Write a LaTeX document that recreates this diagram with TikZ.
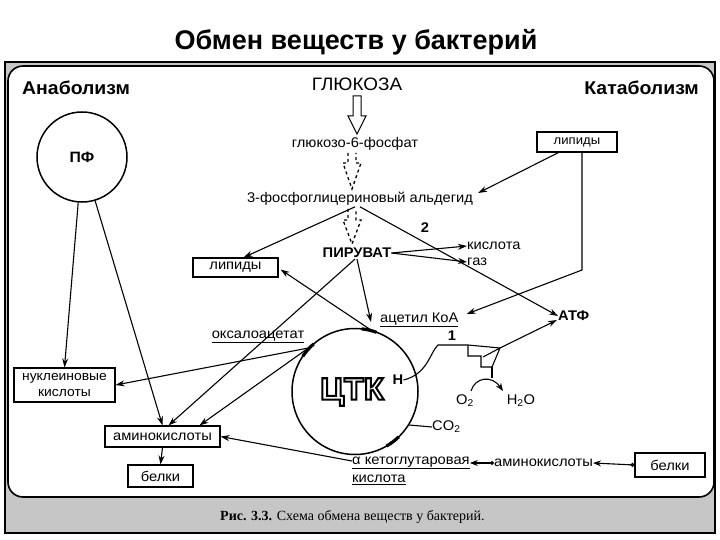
\documentclass[tikz,border=0pt]{standalone}
\usepackage{fontspec}
\setmainfont{Liberation Sans}[FakeStretch=1.05]
\newfontfamily\titlefont{Liberation Sans}
\newfontfamily\capfont{Liberation Serif}
\usetikzlibrary{arrows.meta,calc}
\tikzset{
  lbl/.style={font=\fontsize{14}{16}\selectfont, inner sep=0pt},
  blbl/.style={font=\fontsize{14}{16}\selectfont\bfseries, inner sep=0pt},
  hdr/.style={font=\fontsize{18.5}{20}\selectfont\bfseries, inner sep=0pt},
  box/.style={draw, line width=1.1pt, fill=white, font=\fontsize{14}{16}\selectfont, inner sep=0pt},
  ln/.style={line width=1.1pt},
  conn/.style={line width=1.1pt, -{Stealth[length=9pt,width=6pt]}},
  hollow/.style={line width=1pt, fill=white, line join=miter},
  dhollow/.style={line width=1.3pt, dash pattern=on 3pt off 3pt},
  cmark/.style={line width=3.2pt},
  tcafont/.style={font=\fontsize{31}{33}\selectfont\bfseries, inner sep=0pt},
}
\begin{document}
\begin{tikzpicture}[x=1pt,y=-1pt]
\useasboundingbox (0,0) rectangle (720,540);
\fill[white] (0,0) rectangle (720,540);
% scan frame
\fill[gray!45] (5,62) rectangle (715,533);
\draw[line width=1.3pt] (5,62) rectangle (715,533);
\draw[line width=1.6pt, fill=white, rounded corners=15pt] (8,66) rectangle (714,497);
\node[font=\titlefont\bfseries\fontsize{27}{30}\selectfont, inner sep=0pt] (title) at (356,42) {Обмен веществ у бактерий};
\node[font=\capfont\fontsize{14}{16}\selectfont, inner sep=0pt, anchor=west] (cap) at (220,517) {\textbf{Рис. 3.3.} Схема обмена веществ у бактерий.};
% headers
\node[hdr, anchor=west] (ana) at (22,88) {Анаболизм};
\node[hdr, anchor=east] (kata) at (699,88) {Катаболизм};
% glycolysis column
\node[font=\fontsize{18}{20}\selectfont, inner sep=0pt] (glu) at (357,84) {ГЛЮКОЗА};
\draw[hollow] (353,96) -- (361,96) -- (361,116) -- (366,116) -- (357,134) -- (348,116) -- (353,116) -- cycle;
\node[lbl] (g6p) at (355,144) {глюкозо-6-фосфат};
\draw[dhollow] (348,153) -- (348,163) -- (343,163) -- (352,189) -- (361,163) -- (356,163) -- (356,153);
\node[lbl] (fga) at (360,199) {3-фосфоглицериновый альдегид};
\draw[dhollow] (348,209) -- (348,220) -- (343,220) -- (352,244) -- (361,220) -- (356,220) -- (356,209);
\node[blbl] (pyr) at (357,253) {ПИРУВАТ};
\node[lbl, anchor=west] (acid) at (467,246) {кислота};
\node[lbl, anchor=west] (gas) at (467,262) {газ};
\node[blbl] (n2) at (425,228) {2};
% boxes
\node[draw, circle, line width=1.5pt, minimum size=90pt, font=\fontsize{15}{17}\selectfont\bfseries] (pf) at (82,157) {ПФ};
\node[box, minimum width=85pt, minimum height=19pt] (lipA) at (235.5,267.5) {липиды};
\node[box, minimum width=80pt, minimum height=20pt, font=\fontsize{12.5}{14}\selectfont] (lipK) at (577,142) {липиды};
\node[box, minimum width=101pt, minimum height=34pt, align=center, font=\fontsize{13.2}{16}\selectfont] (nuc) at (64.5,385) {нуклеиновые\\кислоты};
\node[box, minimum width=115pt, minimum height=21pt] (amL) at (162.5,436.5) {аминокислоты};
\node[box, minimum width=65pt, minimum height=22pt] (belL) at (160.5,476) {белки};
\node[box, minimum width=70pt, minimum height=24pt] (belR) at (670,465) {белки};
% TCA
\node[draw, circle, line width=1.5pt, minimum size=126pt, inner sep=0pt] (tca) at (355,391.5) {};
\node[tcafont] (tcat) at (352,392) {\textcolor{white}{\special{pdf:literal direct 2 Tr 2 w 0 G}ЦТК\special{pdf:literal direct 0 Tr}}};
\node[blbl] (hn) at (398,380) {Н};
\node[lbl, anchor=west] (acoa) at (380,320) {\underline{ацетил КоА}};
\node[lbl] (oxa) at (258,337) {\underline{оксалоацетат}};
\node[blbl, anchor=west] (atp) at (558,316) {АТФ};
\node[blbl] (n1) at (452,336) {1};
\node[lbl, anchor=west] (co2) at (432,427) {CO\textsubscript{2}};
\node[lbl] (o2) at (465,401) {O\textsubscript{2}};
\node[lbl] (h2o) at (521,401) {H\textsubscript{2}O};
\node[lbl, anchor=west] (akg1) at (352,463) {\underline{α кетоглутаровая}};
\node[lbl, anchor=west] (akg2) at (352,480) {\underline{кислота}};
\node[lbl, anchor=west] (amR) at (494,463) {аминокислоты};
% marks on circle
\draw[cmark] (355,391.5) ++(-84:63) arc[start angle=-84, end angle=-70, radius=63];
\draw[cmark] (355,391.5) ++(-146:63) arc[start angle=-146, end angle=-131, radius=63];
\draw[cmark] (355,391.5) ++(46:63) arc[start angle=46, end angle=60, radius=63];
% connectors
\draw[conn] ($(fga.south)+(-5,1)$) -- ($(lipA.north east)+(-35,0)$);
\draw[conn] ($(fga.south)+(0,1)$) -- (atp.west);
\draw[conn] (pyr.east) -- (acid.west);
\draw[conn] (pyr.east) -- (gas.west);
\draw[conn] ($(pyr.south)+(0,1)$) -- (371,322);
\draw[conn] ($(pyr.south)+(-2,1)$) -- ($(amL.north)+(6,0)$);
\draw[conn] (tca.76) -- ($(lipA.east)+(2,2)$);
\draw[conn] ($(lipK.south west)+(22,0)$) -- ($(fga.east)+(5,-6)$);
\draw[conn] ($(lipK.south)+(5,0)$) -- (582,270) -- ($(acoa.east)+(8,-6)$);
\draw[conn] (pf) -- (nuc.north);
\draw[conn] (pf) -- (amL.north);
\draw[conn] (tca.137.5) -- (nuc.east);
\draw[conn] (tca.137.5) -- ($(amL.north)+(37,0)$);
\draw[conn] ($(akg1.west)+(0,-2)$) -- (amL.east);
\draw[conn] (amL.south) -- (belL.north);
\draw[ln] (409,425) -- (co2.west);
% electron transport chain
\draw[ln, line join=miter] (hn.east) .. controls (428,374) and (430,352) .. (438,345) -- (468,345) -- (500,348);
\draw[ln, line join=miter] (468,345) -- (468,356) -- (481,356) -- (481,367) -- (492,367) -- (500,348) -- (483,357);
\draw[ln] (492,367) -- (492,378);
\coordinate (etc) at (500,348);
\draw[conn] (etc) -- ($(atp.west)+(-1,4)$);
\draw[ln, -{Stealth[length=8pt,width=6pt]}] (471,391) .. controls (475,377) and (492,375) .. (503,391);
% bottom right chain
\draw[line width=1.1pt, {Stealth[length=8pt,width=6pt]}-{Circle[length=4pt]}] (akg1.east) -- (amR.west);
\draw[line width=1.1pt, {Stealth[length=8pt,width=6pt]}-{Circle[length=4pt]}] (amR.east) -- (belR.west);
\end{tikzpicture}
\end{document}
